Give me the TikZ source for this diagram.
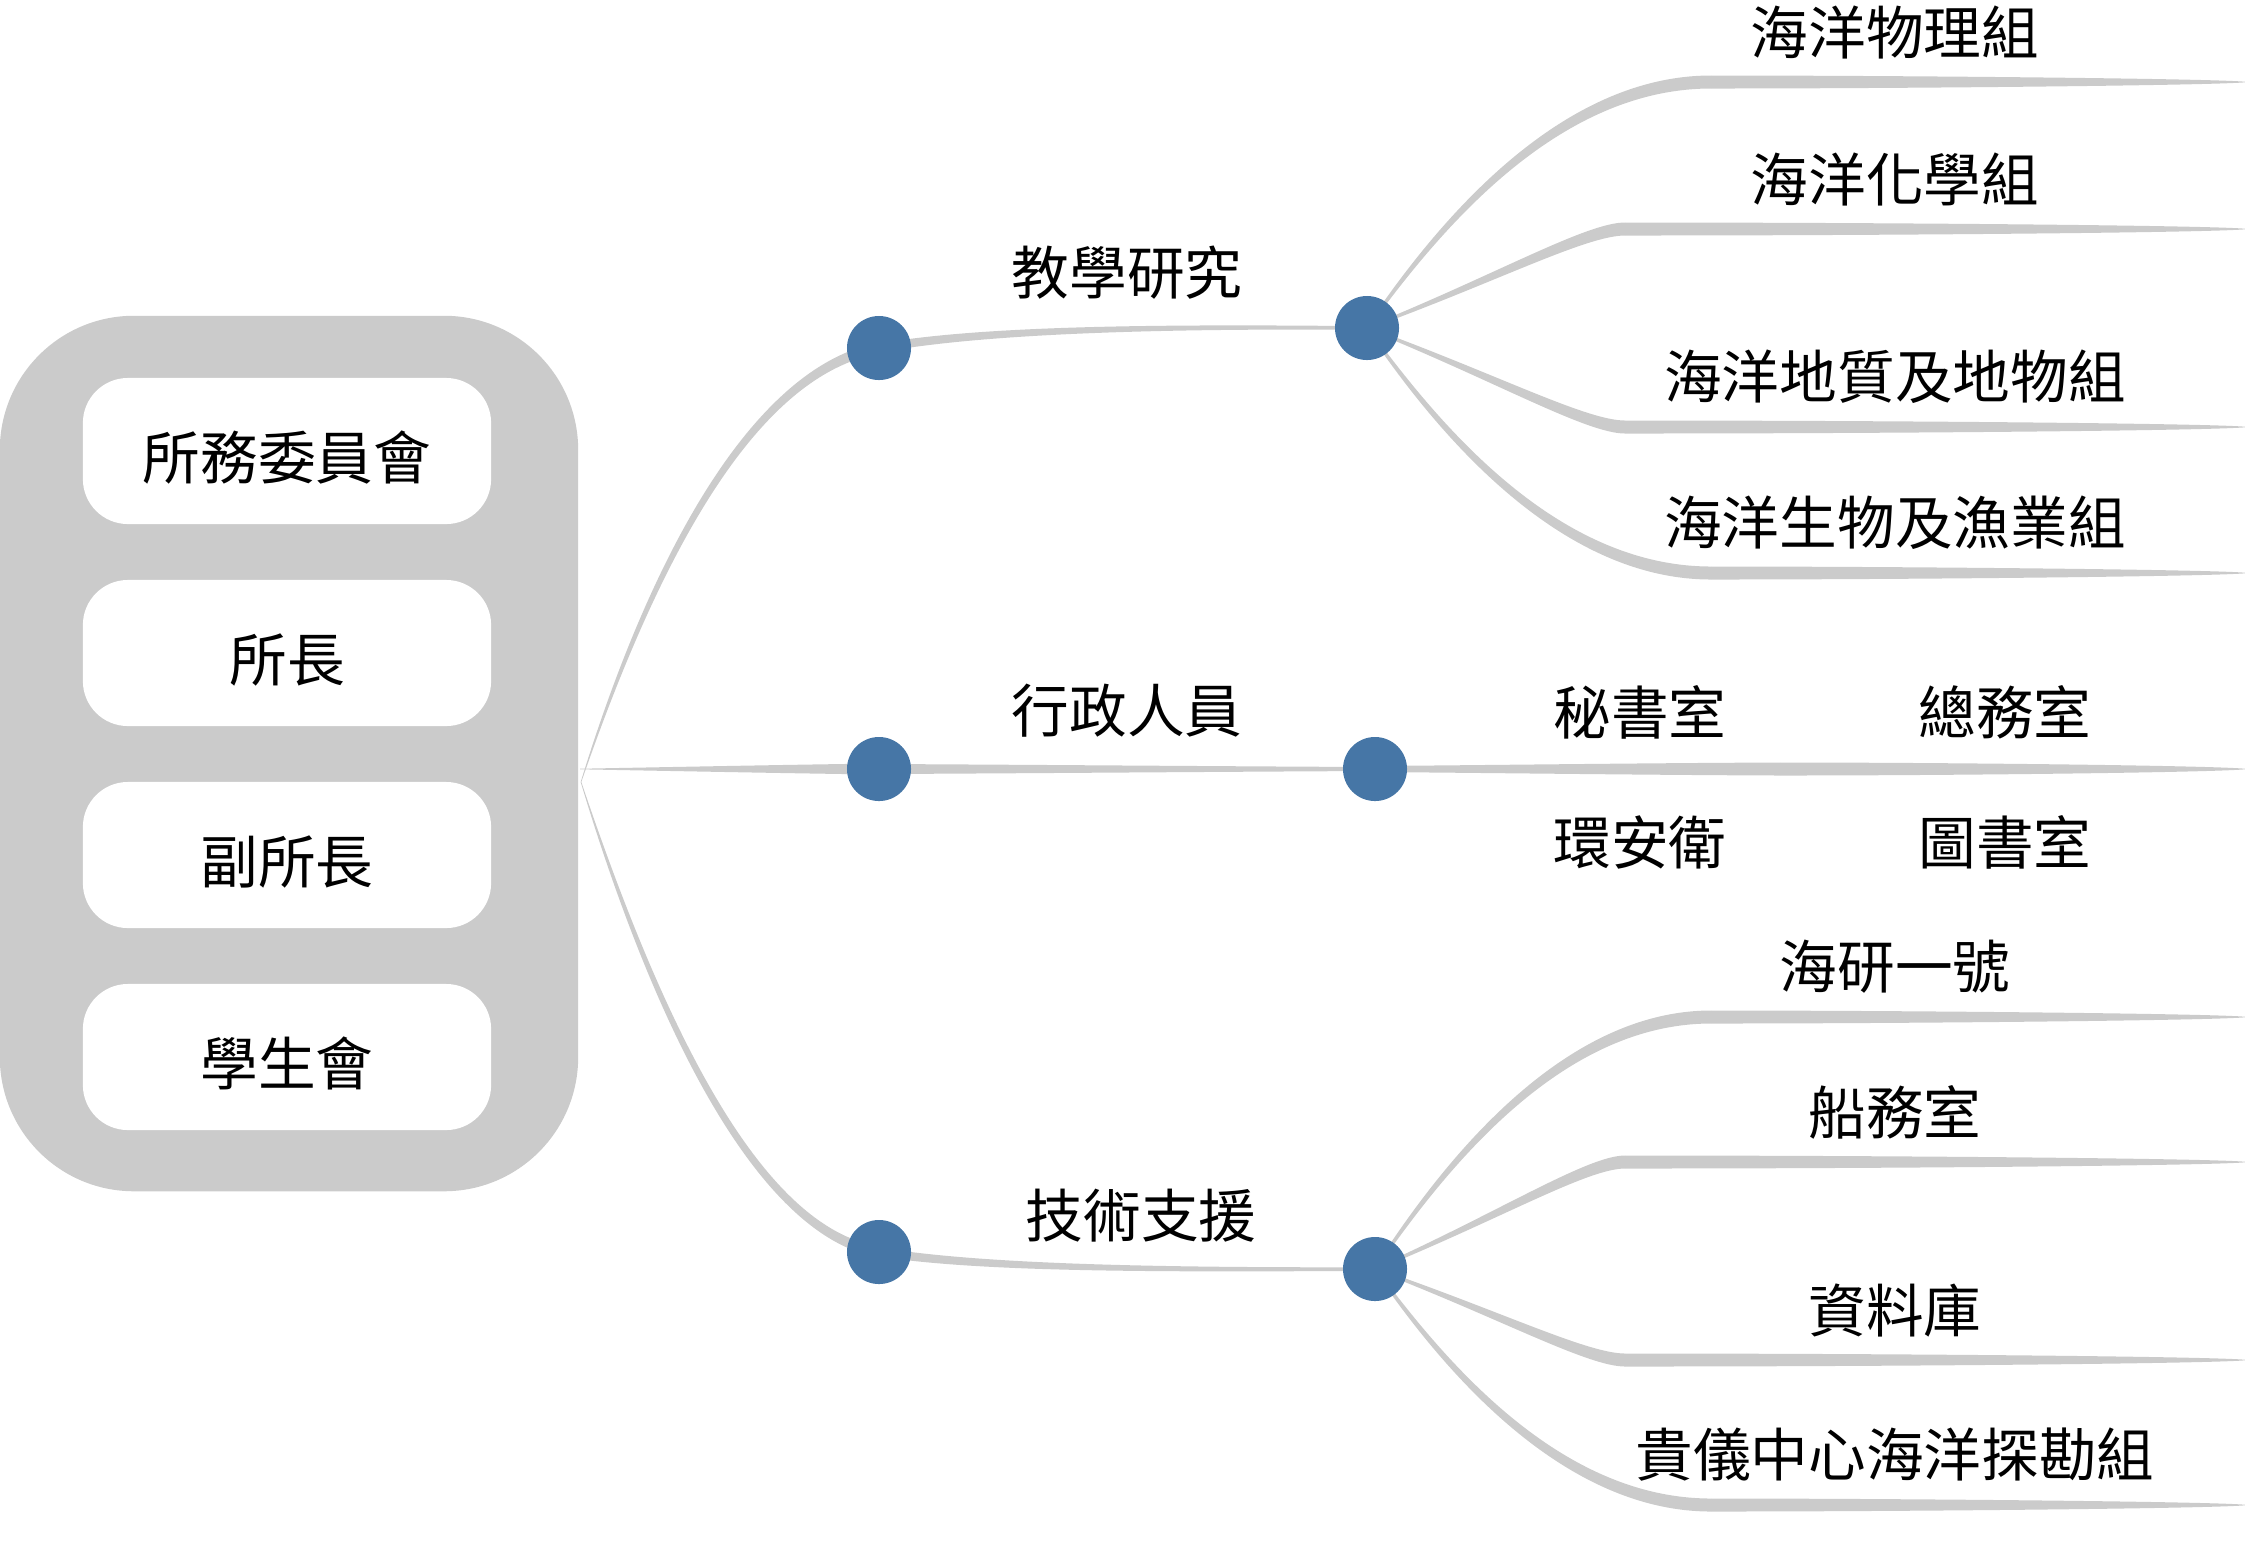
\documentclass[tikz,border=0pt]{standalone}
\usepackage{fontspec}
\setmainfont{Noto Sans CJK TC}
\usetikzlibrary{calc,backgrounds}
\definecolor{limbgray}{RGB}{203,203,203}
\definecolor{dotblue}{RGB}{70,118,166}
\newcommand\bigcjk{\fontsize{16.4pt}{20pt}\selectfont}
% tapered branch: start, control, control, end, then the half-width offset at each of them
\newcommand\limb[8]{%
  \fill[limbgray] ($#1+#5$) .. controls ($#2+#6$) and ($#3+#7$) .. ($#4+#8$)
    -- ($#4-#8$) .. controls ($#3-#7$) and ($#2-#6$) .. ($#1-#5$) -- cycle;}
\begin{document}
\begin{tikzpicture}[x=0.01cm,y=-0.01cm,
  bluedot/.style={circle,fill=dotblue,minimum size=0.64cm,inner sep=0pt},
  membox/.style={fill=white,rounded corners=0.45cm,minimum width=4.08cm,minimum height=1.46cm,text height=0.62cm,font=\bigcjk},
  lbl/.style={font=\bigcjk,inner sep=0pt}]
\useasboundingbox (0,0) rectangle (2245,1541);
% left panel
\node[fill=limbgray,rounded corners=1.34cm,minimum width=5.78cm,minimum height=8.75cm] (panel) at (289,753.5) {};
\foreach \t [count=\i] in {所務委員會,所長,副所長,學生會}
  \node[membox] (m\i) at (287,{451+202*(\i-1)}) {\t};
% dots and branch names
\coordinate (hub) at (580,769);
\coordinate (hubc) at (581,782);
\node[bluedot] (rs1) at (879,348) {};
\node[bluedot] (ad1) at (879,769) {};
\node[bluedot] (ts1) at (879,1252) {};
\node[bluedot] (rs2) at (1367,328) {};
\node[bluedot] (ad2) at (1375,769) {};
\node[bluedot] (ts2) at (1375,1269) {};
\node[lbl] (rs) at (1127,273) {教學研究};
\node[lbl] (ad) at (1127,711) {行政人員};
\node[lbl] (ts) at (1141,1216) {技術支援};
% offices
\node[lbl] (ad-l1) at (1640,712) {秘書室};
\node[lbl] (ad-l2) at (2005,712) {總務室};
\node[lbl] (ad-l3) at (1640,842) {環安衛};
\node[lbl] (ad-l4) at (2005,842) {圖書室};
\begin{scope}[on background layer]
\limb{(hubc)}{(660,540)}{(760,370)}{(rs1)}{(0.3,0.1)}{(4.3,1.5)}{(0.9,5)}{(0,5.5)}
\limb{(hub)}{(700,769)}{(800,769)}{(ad1)}{(0,0.3)}{(0,2.5)}{(0,4.5)}{(0,5.5)}
\limb{(hubc)}{(660,1030)}{(760,1232)}{(ts1)}{(-0.3,0.1)}{(-4.3,1.5)}{(-0.9,5)}{(0,5.5)}
\limb{(rs1)}{(980,330)}{(1150,326)}{(rs2)}{(0,4.5)}{(0,4)}{(0,2.2)}{(0,1.8)}
\limb{(ad1)}{(1000,769)}{(1250,769)}{(ad2)}{(0,5)}{(0,4.5)}{(0,2.5)}{(0,2)}
\limb{(ts1)}{(980,1268)}{(1150,1270)}{(ts2)}{(0,4.5)}{(0,4)}{(0,2.2)}{(0,1.8)}
\coordinate (ad-m) at (1780,769);
\coordinate (ad-e) at (2245,769);
\limb{(ad2)}{(1500,769)}{(1650,769)}{(ad-m)}{(0,3)}{(0,4)}{(0,6)}{(0,6.5)}
\limb{(ad-m)}{(1950,769)}{(2210,769)}{(ad-e)}{(0,6.5)}{(0,6.5)}{(0,3.5)}{(0,0.3)}
\foreach \y/\bx/\fa/\fb/\fc/\t [count=\i] in {82/1711/0.2/0.4/0.55/海洋物理組,229/1625/0.5/0.5/0.85/海洋化學組,
    427/1625/0.5/0.5/0.85/海洋地質及地物組,573/1711/0.2/0.4/0.55/海洋生物及漁業組}{
  \pgfmathsetmacro\cxa{1367+\fa*(\bx-1367)}
  \pgfmathsetmacro\cya{328+\fb*(\y-328)}
  \pgfmathsetmacro\cxb{1367+\fc*(\bx-1367)}
  \pgfmathsetmacro\ang{atan2(\cya-328,\cxa-1367)}
  \pgfmathsetmacro\ox{-sin(\ang)}
  \pgfmathsetmacro\oy{cos(\ang)}
  \coordinate (rs-b\i) at (\bx,\y);
  \coordinate (rs-e\i) at (2245,\y);
  \limb{(rs2)}{(\cxa,\cya)}{(\cxb,\y)}{(rs-b\i)}{({1.2*\ox},{1.2*\oy})}{({3.5*\ox},{3.5*\oy})}{(0,6.5)}{(0,6.5)}
  \limb{(rs-b\i)}{(1900,\y)}{(2210,\y)}{(rs-e\i)}{(0,6.5)}{(0,6.5)}{(0,3.5)}{(0,0.3)}
  \node[lbl] (rs-l\i) at (1895,{\y-50}) {\t};
}
\foreach \y/\bx/\fa/\fb/\fc/\t [count=\i] in {1017/1711/0.2/0.4/0.55/海研一號,1162/1625/0.5/0.5/0.85/船務室,
    1360/1625/0.5/0.5/0.85/資料庫,1505/1711/0.2/0.4/0.55/貴儀中心海洋探勘組}{
  \pgfmathsetmacro\cxa{1375+\fa*(\bx-1375)}
  \pgfmathsetmacro\cya{1269+\fb*(\y-1269)}
  \pgfmathsetmacro\cxb{1375+\fc*(\bx-1375)}
  \pgfmathsetmacro\ang{atan2(\cya-1269,\cxa-1375)}
  \pgfmathsetmacro\ox{-sin(\ang)}
  \pgfmathsetmacro\oy{cos(\ang)}
  \coordinate (ts-b\i) at (\bx,\y);
  \coordinate (ts-e\i) at (2245,\y);
  \limb{(ts2)}{(\cxa,\cya)}{(\cxb,\y)}{(ts-b\i)}{({1.2*\ox},{1.2*\oy})}{({3.5*\ox},{3.5*\oy})}{(0,6.5)}{(0,6.5)}
  \limb{(ts-b\i)}{(1900,\y)}{(2210,\y)}{(ts-e\i)}{(0,6.5)}{(0,6.5)}{(0,3.5)}{(0,0.3)}
  \node[lbl] (ts-l\i) at (1895,{\y-50}) {\t};
}
\end{scope}
\end{tikzpicture}
\end{document}
